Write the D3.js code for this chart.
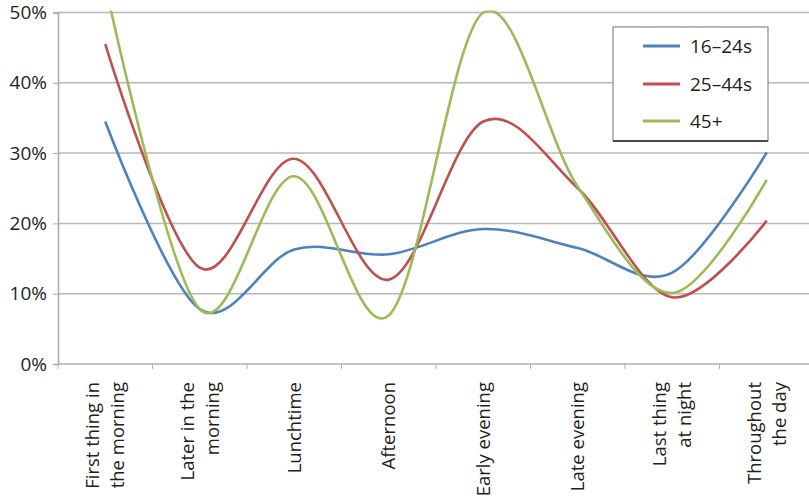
<!DOCTYPE html>
<html>
<head>
<meta charset="utf-8">
<script src="https://cdn.jsdelivr.net/npm/d3@7"></script>
<style>
  html, body { margin: 0; padding: 0; background: #fff; }
  svg { display: block; font-family: "Open Sans", "Noto Sans", sans-serif; }
</style>
</head>
<body>
<svg id="chart" width="809" height="497"></svg>
<script>
// ---- data ----
const categories = [
  ["First thing in", "the morning"],
  ["Later in the", "morning"],
  ["Lunchtime"],
  ["Afternoon"],
  ["Early evening"],
  ["Late evening"],
  ["Last thing", "at night"],
  ["Throughout", "the day"]
];
const seriesNames = ["16–24s", "25–44s", "45+"];
const values16to24 = [34.5, 7.8, 16.3, 15.6, 19.2, 16.5, 13.0, 30.1];
const values25to44 = [45.5, 13.7, 29.2, 12.0, 34.5, 25.0, 9.5, 20.4];
const values45plus = [54.0, 7.8, 26.7, 6.9, 50.0, 25.2, 10.1, 26.2];
const yTicks = [0, 10, 20, 30, 40, 50];
const colors = ["#4f81bd", "#c0504d", "#9bbb59"];

const series = [values16to24, values25to44, values45plus];

const svg = d3.select("#chart");
const W = 809, H = 497;
const pLeft = 58, pRight = 814, pTop = 12.5, pBottom = 364;

const x = d3.scaleBand().domain(d3.range(categories.length)).range([pLeft, pRight]).padding(0);
const y = d3.scaleLinear().domain([0, 50]).range([pBottom, pTop]);

// gridlines
svg.append("g").selectAll("line").data(yTicks.filter(d => d > 0)).join("line")
  .attr("x1", pLeft).attr("x2", W)
  .attr("y1", d => y(d)).attr("y2", d => y(d))
  .attr("stroke", "#b8b8b8").attr("stroke-width", 1.5);

// y axis
const yAxis = svg.append("g").attr("transform", `translate(${pLeft},0)`)
  .call(d3.axisLeft(y).tickValues(yTicks).tickFormat(d => d + "%").tickSize(5).tickPadding(6));
yAxis.select(".domain").attr("stroke", "#a8a8a8").attr("stroke-width", 1.5);
yAxis.selectAll(".tick line").attr("stroke", "#a8a8a8");
yAxis.selectAll("text").attr("font-size", 19).attr("fill", "#231f20")
  .attr("font-family", "'Open Sans', sans-serif");

// x axis line + ticks at category boundaries
const xg = svg.append("g");
xg.append("line").attr("x1", pLeft).attr("x2", W).attr("y1", pBottom).attr("y2", pBottom)
  .attr("stroke", "#b0b0b0").attr("stroke-width", 1.5);
xg.selectAll("line.tk").data(d3.range(categories.length + 1)).join("line").attr("class", "tk")
  .attr("x1", i => pLeft + i * x.bandwidth()).attr("x2", i => pLeft + i * x.bandwidth())
  .attr("y1", pBottom).attr("y2", pBottom + 5)
  .attr("stroke", "#b0b0b0");

// x labels (rotated)
const lineGap = 25, fs = 18.5;
categories.forEach((lines, i) => {
  const cx = x(i) + x.bandwidth() / 2;
  const n = lines.length;
  lines.forEach((t, j) => {
    const bx = cx + (j - (n - 1) / 2) * lineGap + 0.36 * fs;
    svg.append("text")
      .attr("transform", `translate(${bx},382) rotate(-90)`)
      .attr("text-anchor", "end")
      .attr("font-size", fs)
      .attr("fill", "#231f20")
      .text(t);
  });
});

// clip
svg.append("clipPath").attr("id", "plotclip").append("rect")
  .attr("x", pLeft).attr("y", pTop - 2).attr("width", W - pLeft).attr("height", pBottom - pTop + 2);

const line = d3.line()
  .x((d, i) => x(i) + x.bandwidth() / 2)
  .y(d => y(d))
  .curve(d3.curveCatmullRom.alpha(0));

svg.append("g").attr("clip-path", "url(#plotclip)")
  .selectAll("path").data(series).join("path")
  .attr("d", d => line(d))
  .attr("fill", "none")
  .attr("stroke", (d, i) => colors[i])
  .attr("stroke-width", 2.6)
  .attr("stroke-linejoin", "round");

// legend
const lg = svg.append("g");
lg.append("rect").attr("x", 613).attr("y", 27).attr("width", 155).attr("height", 114)
  .attr("fill", "#fff").attr("stroke", "#8a8a8a").attr("stroke-width", 1.2);
lg.append("line").attr("x1", 613).attr("x2", 768).attr("y1", 141).attr("y2", 141)
  .attr("stroke", "#4a4a4a").attr("stroke-width", 2);
const ly = [46, 84, 121];
seriesNames.forEach((s, i) => {
  lg.append("line").attr("x1", 643).attr("x2", 680).attr("y1", ly[i]).attr("y2", ly[i])
    .attr("stroke", colors[i]).attr("stroke-width", 3);
  lg.append("text").attr("x", 690).attr("y", ly[i]).attr("dy", "0.35em")
    .attr("font-size", 19).attr("fill", "#231f20").text(s);
});
</script>
</body>
</html>
